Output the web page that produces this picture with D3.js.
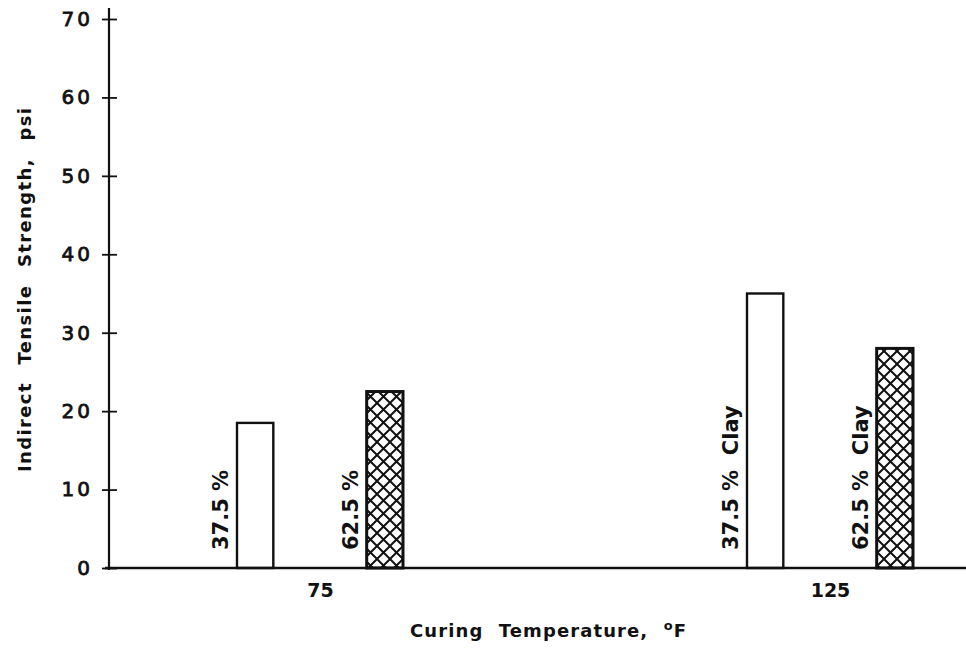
<!DOCTYPE html>
<html>
<head>
<meta charset="utf-8">
<script src="https://cdn.jsdelivr.net/npm/d3@7"></script>
<style>
  body { margin: 0; background: #fff; }
  svg text { font-family: 'DejaVu Sans', sans-serif; font-weight: bold; fill: #111; }
</style>
</head>
<body>
<svg id="chart" width="966" height="651"></svg>
<script>
////////// dados
const temps = ['75', '125'];
const clayLevels = ['37.5 %', '62.5 %'];
const strength375 = [18.5, 35];
const strength625 = [22.5, 28];
const yTicks = [0, 10, 20, 30, 40, 50, 60, 70];
const barLabels375 = ['37.5 %', '37.5 %  Clay'];
const barLabels625 = ['62.5 %', '62.5 %  Clay'];

const svg = d3.select('#chart');

// escalas
const y = d3.scaleLinear().domain([0, 70]).range([568, 19]);
const x0 = d3.scalePoint().domain(temps).range([320, 830]);
const x1 = d3.scaleBand().domain(clayLevels).range([-83, 83]).paddingInner(0.72);

// padrão xadrez diagonal
const defs = svg.append('defs');
const pat = defs.append('pattern')
  .attr('id', 'hatch')
  .attr('patternUnits', 'userSpaceOnUse')
  .attr('width', 13)
  .attr('height', 13);
pat.append('rect').attr('width', 13).attr('height', 13).attr('fill', '#fff');
pat.append('path')
  .attr('d', 'M-1,-1 L14,14 M14,-1 L-1,14')
  .attr('stroke', '#111')
  .attr('stroke-width', 2);

// monta as barras a partir dos arrays
const bars = [];
temps.forEach((t, i) => {
  bars.push({temp: t, clay: clayLevels[0], value: strength375[i], label: barLabels375[i], fill: '#fff'});
  bars.push({temp: t, clay: clayLevels[1], value: strength625[i], label: barLabels625[i], fill: 'url(#hatch)'});
});

// eixo y
const yAxis = svg.append('g')
  .attr('transform', 'translate(109,0)')
  .call(d3.axisLeft(y).tickValues(yTicks).tickSize(7).tickPadding(9));

yAxis.select('.domain').remove();
yAxis.selectAll('.tick line')
  .attr('x1', -7)
  .attr('x2', 8)
  .attr('stroke', '#111')
  .attr('stroke-width', 1.8);
yAxis.selectAll('.tick text')
  .style('font-size', '20px')
  .style('font-weight', 'normal')
  .style('stroke', '#111')
  .style('stroke-width', '0.8px')
  .style('letter-spacing', '3px')
  .attr('fill', '#111');

svg.append('line')
  .attr('x1', 109).attr('x2', 109)
  .attr('y1', 8).attr('y2', y(0) + 2)
  .attr('stroke', '#111')
  .attr('stroke-width', 2.2);

// barras
svg.append('g')
  .selectAll('rect')
  .data(bars)
  .join('rect')
  .attr('x', d => x0(d.temp) + x1(d.clay))
  .attr('y', d => y(d.value))
  .attr('width', x1.bandwidth())
  .attr('height', d => y(0) - y(d.value))
  .attr('fill', d => d.fill)
  .attr('stroke', '#111')
  .attr('stroke-width', d => d.clay === clayLevels[1] ? 3 : 2.4);

// rótulos verticais das barras
svg.append('g')
  .selectAll('text')
  .data(bars)
  .join('text')
  .attr('transform', d => 'translate(' + (x0(d.temp) + x1(d.clay) - 9) + ',' + (y(0) - 18) + ') rotate(-90)')
  .style('font-size', '21px')
  .style('white-space', 'pre')
  .attr('xml:space', 'preserve')
  .text(d => d.label);

// linha de base
svg.append('line')
  .attr('x1', 105).attr('x2', 966)
  .attr('y1', y(0)).attr('y2', y(0))
  .attr('stroke', '#111')
  .attr('stroke-width', 2.6);

// eixo x
const xAxis = svg.append('g')
  .attr('transform', 'translate(0,' + y(0) + ')')
  .call(d3.axisBottom(x0).tickSize(0).tickPadding(16));
xAxis.select('.domain').remove();
xAxis.selectAll('.tick text')
  .style('font-size', '19px')
  .attr('fill', '#111');

// títulos
const xTitle = svg.append('text')
  .attr('x', 410)
  .attr('y', 637)
  .attr('textLength', 276)
  .attr('lengthAdjust', 'spacing')
  .style('word-spacing', '8px')
  .style('font-size', '18px');
xTitle.append('tspan').text('Curing Temperature, ');
xTitle.append('tspan').attr('dy', -7).style('font-size', '13px').text('o');
xTitle.append('tspan').attr('dy', 7).text('F');

svg.append('text')
  .attr('transform', 'translate(31,472) rotate(-90)')
  .attr('textLength', 364)
  .attr('lengthAdjust', 'spacing')
  .style('word-spacing', '10px')
  .style('font-size', '18px')
  .text('Indirect Tensile Strength, psi');
</script>
</body>
</html>
